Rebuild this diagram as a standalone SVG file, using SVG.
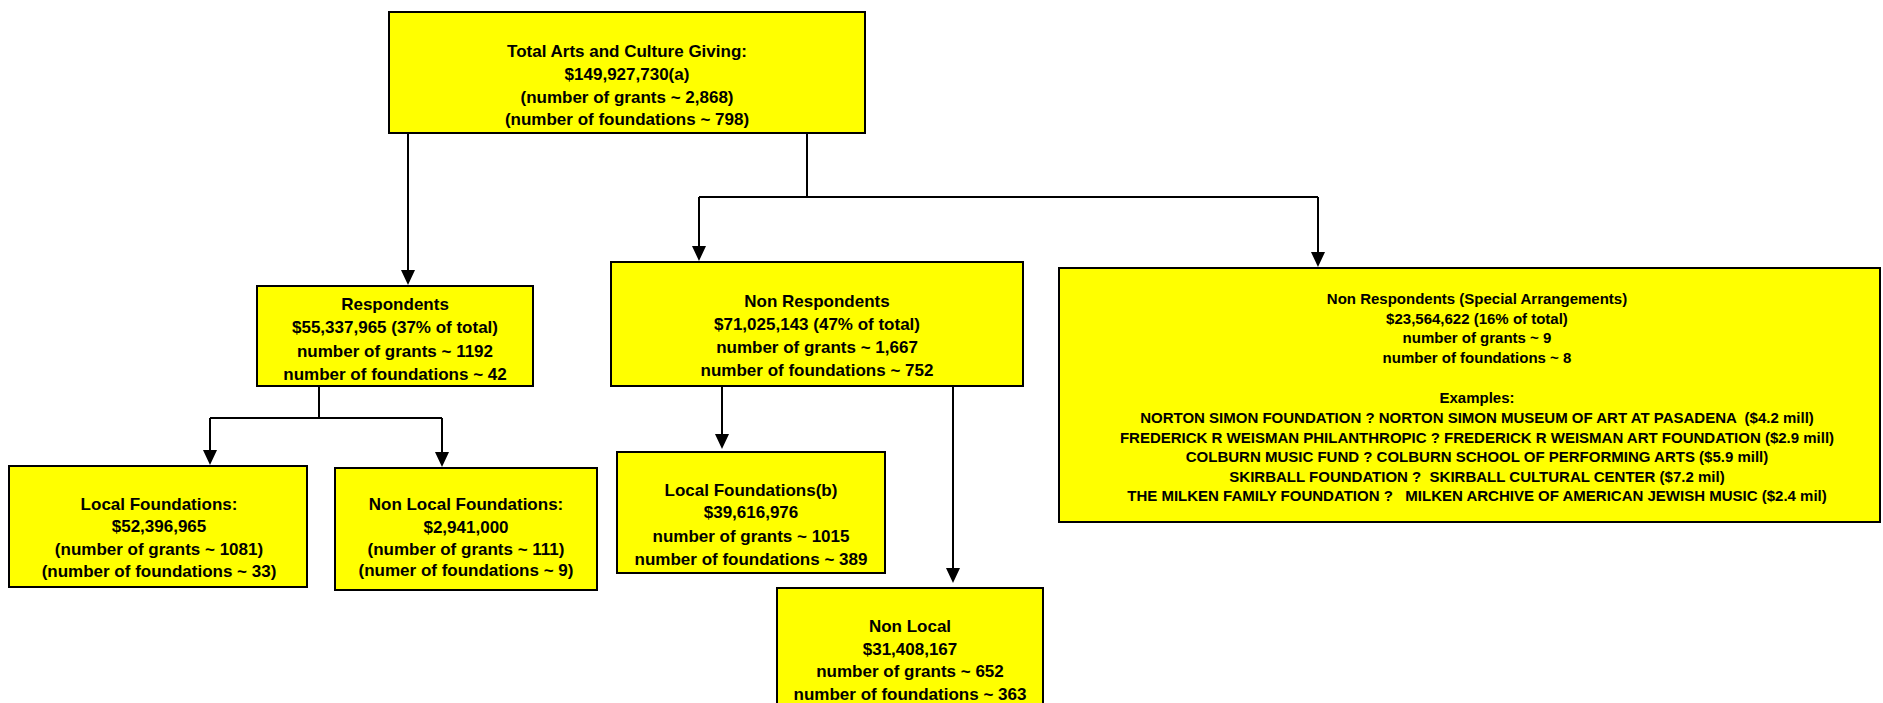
<svg xmlns="http://www.w3.org/2000/svg" width="1883" height="703" viewBox="0 0 1883 703">
<style>
.box{fill:#ffff00;stroke:#000;stroke-width:2}
.t{font-family:"Liberation Sans",Arial,sans-serif;font-weight:bold;font-size:17px;fill:#000;text-anchor:middle;white-space:pre}
.s{font-size:15px}
.c{fill:none;stroke:#000;stroke-width:2}
</style>
<defs>
<marker id="arr" markerUnits="userSpaceOnUse" markerWidth="16" markerHeight="16" refX="12" refY="7" orient="auto">
<path d="M0,0 L15,7 L0,14 z" fill="#000"/>
</marker>
</defs>
<rect x="0" y="0" width="1883" height="703" fill="#fff"/>
<g id="connectors">
<path class="c" d="M408,134 V282" marker-end="url(#arr)"/>
<path class="c" d="M807,134 V197"/>
<path class="c" d="M699,197 H1318"/>
<path class="c" d="M699,197 V258" marker-end="url(#arr)"/>
<path class="c" d="M1318,197 V264" marker-end="url(#arr)"/>
<path class="c" d="M319,386 V418"/>
<path class="c" d="M210,418 H442"/>
<path class="c" d="M210,418 V462" marker-end="url(#arr)"/>
<path class="c" d="M442,418 V464" marker-end="url(#arr)"/>
<path class="c" d="M722,387 V446" marker-end="url(#arr)"/>
<path class="c" d="M953,386 V580" marker-end="url(#arr)"/>
</g>
<g id="total">
<rect class="box" x="389" y="12" width="476" height="121"/>
<text class="t" x="627" y="57">Total Arts and Culture Giving:</text>
<text class="t" x="627" y="80">$149,927,730(a)</text>
<text class="t" x="627" y="103">(number of grants ~ 2,868)</text>
<text class="t" x="627" y="125">(number of foundations ~ 798)</text>
</g>
<g id="respondents">
<rect class="box" x="257" y="286" width="276" height="100"/>
<text class="t" x="395" y="310">Respondents</text>
<text class="t" x="395" y="333">$55,337,965 (37% of total)</text>
<text class="t" x="395" y="357">number of grants ~ 1192</text>
<text class="t" x="395" y="380">number of foundations ~ 42</text>
</g>
<g id="nonrespondents">
<rect class="box" x="611" y="262" width="412" height="124"/>
<text class="t" x="817" y="307">Non Respondents</text>
<text class="t" x="817" y="330">$71,025,143 (47% of total)</text>
<text class="t" x="817" y="353">number of grants ~ 1,667</text>
<text class="t" x="817" y="376">number of foundations ~ 752</text>
</g>
<g id="special">
<rect class="box" x="1059" y="268" width="821" height="254"/>
<text class="t s" x="1477" y="304">Non Respondents (Special Arrangements)</text>
<text class="t s" x="1477" y="324">$23,564,622 (16% of total)</text>
<text class="t s" x="1477" y="343">number of grants ~ 9</text>
<text class="t s" x="1477" y="363">number of foundations ~ 8</text>
<text class="t s" x="1477" y="403">Examples:</text>
<text class="t s" x="1477" y="423" xml:space="preserve">NORTON SIMON FOUNDATION ? NORTON SIMON MUSEUM OF ART AT PASADENA  ($4.2 mill)</text>
<text class="t s" x="1477" y="443">FREDERICK R WEISMAN PHILANTHROPIC ? FREDERICK R WEISMAN ART FOUNDATION ($2.9 mill)</text>
<text class="t s" x="1477" y="462">COLBURN MUSIC FUND ? COLBURN SCHOOL OF PERFORMING ARTS ($5.9 mill)</text>
<text class="t s" x="1477" y="482" xml:space="preserve">SKIRBALL FOUNDATION ?  SKIRBALL CULTURAL CENTER ($7.2 mil)</text>
<text class="t s" x="1477" y="501" xml:space="preserve">THE MILKEN FAMILY FOUNDATION ?   MILKEN ARCHIVE OF AMERICAN JEWISH MUSIC ($2.4 mil)</text>
</g>
<g id="localfoundations">
<rect class="box" x="9" y="466" width="298" height="121"/>
<text class="t" x="159" y="510">Local Foundations:</text>
<text class="t" x="159" y="532">$52,396,965</text>
<text class="t" x="159" y="555">(number of grants ~ 1081)</text>
<text class="t" x="159" y="577">(number of foundations ~ 33)</text>
</g>
<g id="nonlocalfoundations">
<rect class="box" x="335" y="468" width="262" height="122"/>
<text class="t" x="466" y="510">Non Local Foundations:</text>
<text class="t" x="466" y="533">$2,941,000</text>
<text class="t" x="466" y="555">(number of grants ~ 111)</text>
<text class="t" x="466" y="576">(numer of foundations ~ 9)</text>
</g>
<g id="localfoundationsb">
<rect class="box" x="617" y="452" width="268" height="121"/>
<text class="t" x="751" y="496">Local Foundations(b)</text>
<text class="t" x="751" y="518">$39,616,976</text>
<text class="t" x="751" y="542">number of grants ~ 1015</text>
<text class="t" x="751" y="565">number of foundations ~ 389</text>
</g>
<g id="nonlocal">
<rect class="box" x="777" y="588" width="266" height="130"/>
<text class="t" x="910" y="632">Non Local</text>
<text class="t" x="910" y="655">$31,408,167</text>
<text class="t" x="910" y="677">number of grants ~ 652</text>
<text class="t" x="910" y="700">number of foundations ~ 363</text>
</g>
</svg>
